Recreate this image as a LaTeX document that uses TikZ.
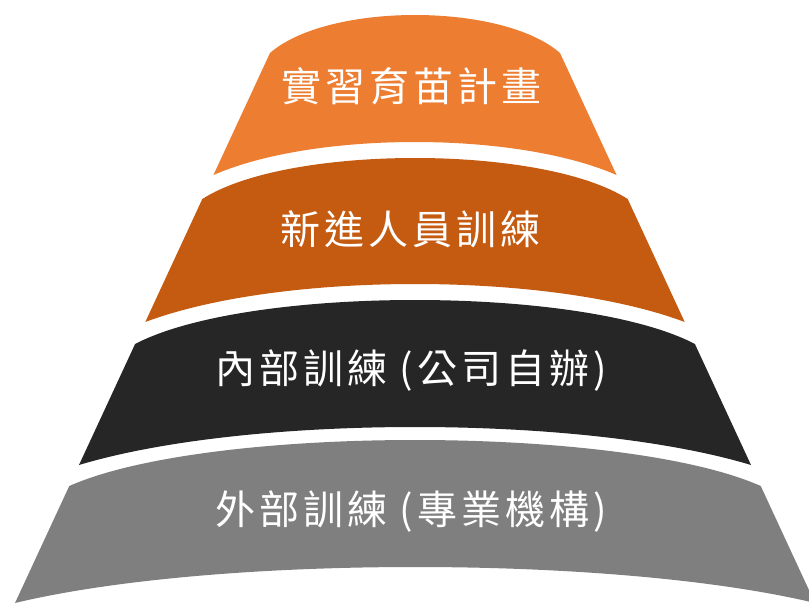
\documentclass[tikz,border=0pt]{standalone}
\usepackage{fontspec}
\newfontfamily\cjk[LetterSpace=10]{Noto Sans CJK TC}
\definecolor{lay1}{HTML}{ED7D31}
\definecolor{lay2}{HTML}{C55A11}
\definecolor{lay3}{HTML}{262626}
\definecolor{lay4}{HTML}{7F7F7F}
\newcommand\mylayer[5]{%
 \pgfmathsetmacro\LXt{270-0.4636*(#2-53)}%
 \pgfmathsetmacro\RXt{830-\LXt}%
 \pgfmathsetmacro\LXb{270-0.4636*(#4-53)}%
 \pgfmathsetmacro\RXb{830-\LXb}%
 \pgfmathsetmacro\Wt{\RXt-\LXt}%
 \pgfmathsetmacro\Wb{\RXb-\LXb}%
 \pgfmathsetmacro\Yt{#2-4/3*(#2-#3)}%
 \pgfmathsetmacro\Yb{#4-4/3*(#4-#5)}%
 \fill[#1] (\LXt,#2) .. controls ({\LXt+0.2*\Wt},\Yt) and ({\RXt-0.2*\Wt},\Yt) .. (\RXt,#2)
   -- (\RXb,#4) .. controls ({\RXb-0.25*\Wb},\Yb) and ({\LXb+0.25*\Wb},\Yb) .. (\LXb,#4) -- cycle;%
}
\tikzset{lbl/.style={text=white,font=\cjk\fontsize{40}{48}\selectfont,inner sep=0pt,anchor=center}}
\begin{document}
\begin{tikzpicture}[x=1pt,y=-1pt]
\useasboundingbox (0,0) rectangle (809,605);
\clip (0,0) rectangle (809,605);
\mylayer{lay1}{53}{15}{175}{142}
\mylayer{lay2}{199}{158}{322}{284}
\mylayer{lay3}{344}{300}{465}{427}
\mylayer{lay4}{486}{440}{603}{567}
\node[lbl] (t1) at (411,86) {實習育苗計畫};
\node[lbl] (t2) at (410,229) {新進人員訓練};
\node[lbl] (t3) at (411,371) {內部訓練 (公司自辦)};
\node[lbl] (t4) at (411,512) {外部訓練 (專業機構)};
\end{tikzpicture}
\end{document}
